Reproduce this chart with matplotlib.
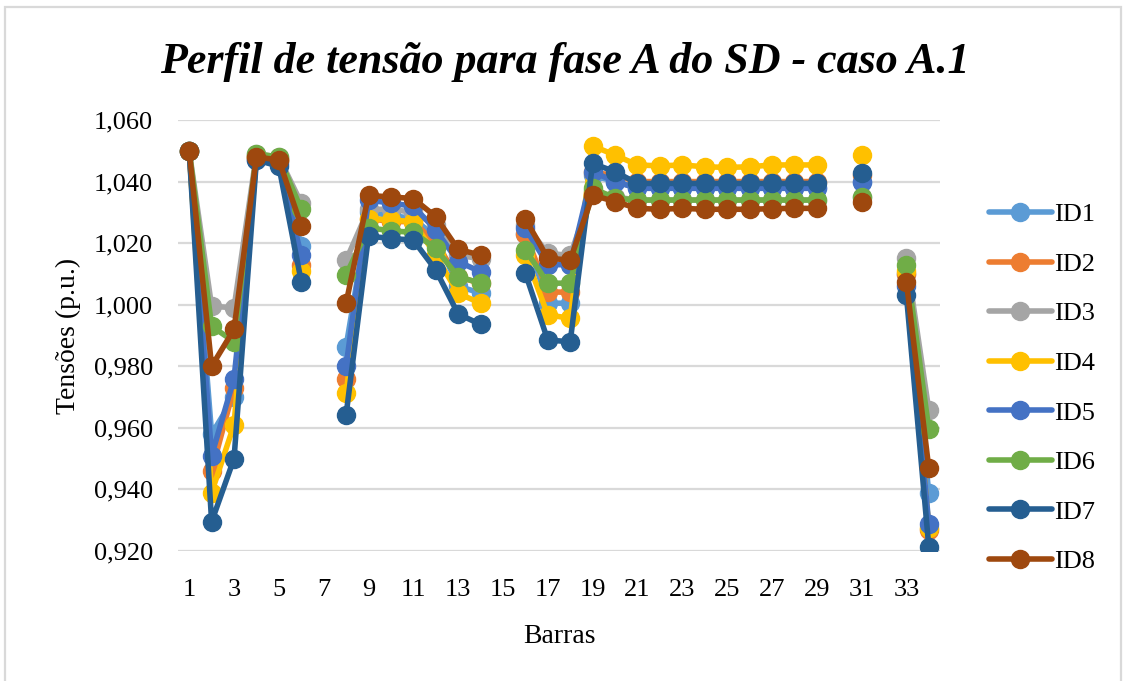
import matplotlib
matplotlib.use("Agg")
import matplotlib.pyplot as plt
import numpy as np
from matplotlib.patches import Rectangle

nan = np.nan

# bus numbers 1..34 (7, 15, 30 and 32 have no data)
barras = list(range(1, 35))

id1 = [1.050, 0.958, 0.970, 1.048, 1.047, 1.019, nan, 0.9864, 1.030, 1.029, 1.028, 1.022, 1.006, 1.0038,
       nan, 1.023, 1.0005, 1.0005, 1.042, 1.040, 1.038, 1.038, 1.038, 1.038, 1.038, 1.038, 1.038, 1.038,
       1.038, nan, 1.040, nan, 1.010, 0.9389]
id2 = [1.050, 0.946, 0.973, 1.048, 1.047, 1.013, nan, 0.976, 1.028, 1.027, 1.027, 1.020, 1.009, 1.007,
       nan, 1.023, 1.0042, 1.004, 1.043, 1.042, 1.040, 1.040, 1.040, 1.040, 1.040, 1.040, 1.040, 1.040,
       1.040, nan, 1.042, nan, 1.010, 0.9268]
id3 = [1.050, 0.9995, 0.999, 1.049, 1.048, 1.033, nan, 1.0145, 1.031, 1.031, 1.030, 1.026, 1.016, 1.015,
       nan, 1.026, 1.0167, 1.016, 1.037, 1.035, 1.034, 1.034, 1.034, 1.034, 1.034, 1.034, 1.034, 1.034,
       1.034, nan, 1.035, nan, 1.0151, 0.9658]
id4 = [1.050, 0.939, 0.961, 1.048, 1.047, 1.011, nan, 0.9712, 1.028, 1.0275, 1.027, 1.016, 1.0037, 1.0005,
       nan, 1.0161, 0.9967, 0.9956, 1.0516, 1.0486, 1.0454, 1.0451, 1.0454, 1.0448, 1.0446, 1.0448, 1.0454,
       1.0454, 1.0454, nan, 1.0486, nan, 1.011, 0.9275]
id5 = [1.050, 0.951, 0.976, 1.047, 1.046, 1.016, nan, 0.980, 1.034, 1.033, 1.032, 1.0243, 1.014, 1.0107,
       nan, 1.0248, 1.013, 1.013, 1.0432, 1.040, 1.0378, 1.0378, 1.0378, 1.0378, 1.0378, 1.0378, 1.0378,
       1.0378, 1.0378, nan, 1.040, nan, 1.006, 0.9288]
id6 = [1.050, 0.993, 0.988, 1.049, 1.048, 1.031, nan, 1.0097, 1.025, 1.024, 1.0235, 1.0183, 1.0091, 1.007,
       nan, 1.0178, 1.007, 1.007, 1.0379, 1.0346, 1.034, 1.034, 1.034, 1.034, 1.034, 1.034, 1.034, 1.034,
       1.034, nan, 1.035, nan, 1.0129, 0.9596]
id7 = [1.050, 0.9295, 0.950, 1.047, 1.045, 1.0075, nan, 0.9642, 1.0223, 1.0215, 1.021, 1.0113, 0.997, 0.9936,
       nan, 1.0102, 0.9885, 0.988, 1.0459, 1.0432, 1.0394, 1.0394, 1.0394, 1.0394, 1.0394, 1.0394, 1.0394,
       1.0394, 1.0394, nan, 1.0428, nan, 1.0032, 0.9214]
id8 = [1.050, 0.980, 0.992, 1.048, 1.047, 1.0256, nan, 1.0005, 1.0355, 1.035, 1.0345, 1.0286, 1.018, 1.0161,
       nan, 1.0278, 1.0151, 1.0145, 1.0356, 1.0335, 1.0313, 1.0310, 1.0313, 1.0310, 1.0310, 1.0310, 1.0312,
       1.0313, 1.0313, nan, 1.0335, nan, 1.0075, 0.9469]

series = [("ID1", id1), ("ID2", id2), ("ID3", id3), ("ID4", id4),
          ("ID5", id5), ("ID6", id6), ("ID7", id7), ("ID8", id8)]
colors = ["#5B9BD5", "#ED7D31", "#A5A5A5", "#FFC000", "#4472C4", "#70AD47", "#255E91", "#9E480E"]

plt.rcParams["font.family"] = ["Liberation Serif", "DejaVu Serif"]

fig = plt.figure(figsize=(11.25, 6.81), dpi=100, facecolor="white")
ax = fig.add_axes([178 / 1125, 1 - 551 / 681, (940 - 178) / 1125, (551 - 120) / 681])

for (name, vals), color in zip(series, colors):
    ax.plot(barras, vals, color=color, linewidth=4, marker="o", markersize=13,
            solid_capstyle="round", label=name)

ax.set_xlim(0.5, 34.5)
ax.set_ylim(0.92, 1.06)
ax.set_yticks(np.arange(0.92, 1.0601, 0.02))
ax.set_yticklabels([f"{v:.3f}".replace(".", ",") for v in np.arange(0.92, 1.0601, 0.02)])
ax.set_xticks(barras[::2])
ax.tick_params(axis="both", length=0, labelsize=19, colors="black")
ax.tick_params(axis="y", pad=18)
ax.tick_params(axis="x", pad=20)
ax.grid(axis="y", color="#d9d9d9", linewidth=1.6)
ax.set_axisbelow(True)
for s in ax.spines.values():
    s.set_visible(False)

ax.set_xlabel("Barras", fontsize=20, labelpad=17)
ax.set_ylabel("Tensões (p.u.)", fontsize=20, labelpad=9)

fig.text(0.502, 1 - 62 / 681, "Perfil de tensão para fase A do SD - caso A.1", fontsize=31.7,
         fontweight="bold", fontstyle="italic", ha="center", va="center")

ax.legend(loc="center left", bbox_to_anchor=(978 / 1125, 1 - 388 / 681), bbox_transform=fig.transFigure,
          frameon=False, fontsize=19, handlelength=2.4, labelspacing=0.99, handletextpad=0.1,
          borderaxespad=0)

fig.patches.append(Rectangle((5 / 1125, -0.02), 1116 / 1125, 1.02 - 7 / 681, transform=fig.transFigure,
                             fill=False, edgecolor="#d9d9d9", linewidth=1.6))

fig.savefig("out.png", dpi=100)
